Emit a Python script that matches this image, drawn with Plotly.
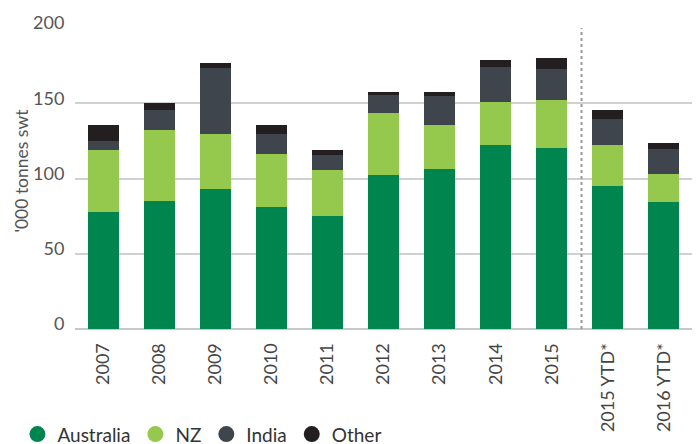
import plotly.graph_objects as go

categories = ["2007", "2008", "2009", "2010", "2011", "2012", "2013", "2014",
              "2015", "2015 YTD*", "2016 YTD*"]
australia = [78, 85, 93, 81, 75, 102.5, 106, 122.5, 120, 95, 84.5]
nz = [41, 47.5, 36.5, 35, 30.5, 41, 29.5, 28.5, 32, 27, 18.5]
india = [6, 13, 44, 13.5, 10, 12, 19, 23, 21, 17.5, 16.5]
other = [10.5, 4.5, 3.5, 6, 3.5, 2, 3.3, 4.7, 7.3, 6, 4]

series = [
    ("Australia", australia, "#00854F"),
    ("NZ", nz, "#94C94E"),
    ("India", india, "#3E454C"),
    ("Other", other, "#231F20"),
]

FONT = "Lato, 'Open Sans', sans-serif"

fig = go.Figure()
for name, vals, color in series:
    fig.add_trace(go.Bar(
        x=categories, y=vals, name=name, marker_color=color,
        marker_line_width=0, showlegend=False,
    ))
# circular legend markers
for name, vals, color in series:
    fig.add_trace(go.Scatter(
        x=[None], y=[None], mode="markers", name=name,
        marker=dict(symbol="circle", size=16, color=color),
    ))

# dotted divider between full years and year-to-date
fig.add_shape(type="line", xref="x", yref="y", x0=8.53, x1=8.53, y0=0, y1=200,
              line=dict(color="#9a9a9a", width=2, dash="dot"))

# y-axis title
fig.add_annotation(text="'000 tonnes swt", textangle=-90, showarrow=False,
                   xref="paper", yref="paper", x=-0.086, y=0.526,
                   xanchor="center", yanchor="middle",
                   font=dict(size=17.5, color="#555555", family=FONT))

fig.update_layout(
    barmode="stack",
    bargap=0.446,
    width=697, height=444,
    margin=dict(l=75, r=5, t=28, b=115, autoexpand=False),
    plot_bgcolor="white", paper_bgcolor="white",
    font=dict(family=FONT, color="#555555", size=18),
    legend=dict(orientation="h", traceorder="normal",
                x=0.025, xref="container", y=0.022, yref="container",
                xanchor="left", yanchor="middle",
                font=dict(size=19, color="#333333"),
                itemwidth=30, tracegroupgap=0, bgcolor="rgba(0,0,0,0)"),
    xaxis=dict(
        range=[-0.5, 10.5], tickangle=-90, showgrid=False,
        ticks="outside", ticklen=6, tickcolor="rgba(0,0,0,0)",
        tickfont=dict(size=18, color="#444444"),
        showline=False, zeroline=False, fixedrange=True, automargin=False,
    ),
    yaxis=dict(
        range=[0, 200], tickvals=[0, 50, 100, 150, 200],
        showgrid=True, gridcolor="#d0d0d0", gridwidth=1.5,
        zeroline=True, zerolinecolor="#c8c8c8", zerolinewidth=1.5,
        ticks="outside", ticklen=6, tickcolor="rgba(0,0,0,0)",
        ticklabelshift=-5,
        tickfont=dict(size=18, color="#555555"),
        automargin=False,
    ),
)

fig.write_html("out.html")
